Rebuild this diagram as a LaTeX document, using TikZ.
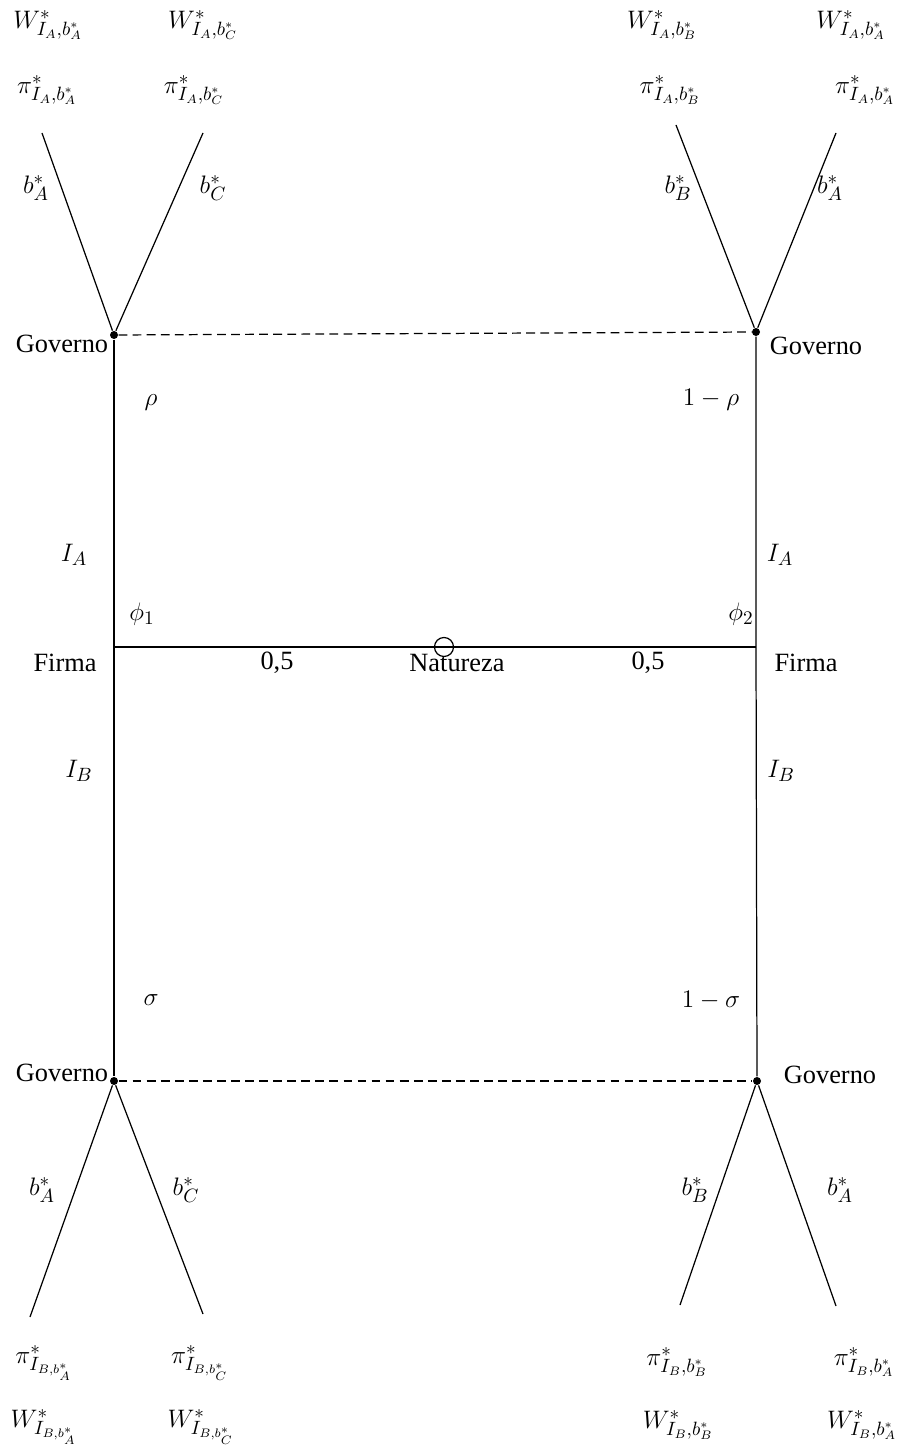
\documentclass[tikz,border=0pt]{standalone}
\usepackage{fontspec}
\setmainfont{Liberation Serif}
\usetikzlibrary{positioning}

\begin{document}
\begin{tikzpicture}[x=0.02cm,y=-0.02cm,line width=0.7pt,
  every node/.style={font=\fontsize{15}{18}\selectfont,inner sep=1pt},
  dot/.style={circle,fill,inner sep=0pt,minimum size=0.16cm},
  chance/.style={circle,draw,inner sep=0pt,minimum size=0.38cm},
  govline/.style={dash pattern=on 5pt off 3pt}]
\useasboundingbox (0,0) rectangle (898,1452);
% decision points
\node[dot] (gTL) at (114,335) {};
\node[dot] (gTR) at (756,332) {};
\node[dot] (gBL) at (114,1081) {};
\node[dot] (gBR) at (757,1081) {};
\coordinate (fL) at (114,647);
\coordinate (fR) at (756,647);
% branch ends
\coordinate (tTLa) at (42,133);  \coordinate (tTLc) at (203,133);
\coordinate (tTRb) at (676,125); \coordinate (tTRa) at (836,133);
\coordinate (tBLa) at (30,1317); \coordinate (tBLc) at (203,1314);
\coordinate (tBRb) at (680,1305); \coordinate (tBRa) at (836,1306);
% tree
\draw (gTL) -- (fL) -- (gBL);
\draw (gTR) -- (fR) -- (gBR);
\draw (fL) -- (fR);
\node[chance] (nat) at (444,647) {};
\draw[govline] (gTL) -- (gTR);
\draw[govline] (gBL) -- (gBR);
\draw (gTL) -- (tTLa); \draw (gTL) -- (tTLc);
\draw (gTR) -- (tTRb); \draw (gTR) -- (tTRa);
\draw (gBL) -- (tBLa); \draw (gBL) -- (tBLc);
\draw (gBR) -- (tBRb); \draw (gBR) -- (tBRa);
% players
\node (lgTL) at (62,344) {Governo};
\node (lgTR) at (816,346) {Governo};
\node (lgBL) at (62,1073) {Governo};
\node (lgBR) at (830,1075) {Governo};
\node (lfL) at (65,663) {Firma};
\node (lfR) at (806,663) {Firma};
\node (lnat) at (457,663) {Natureza};
% probabilities and actions
\node (pL) at (277,663) {0,5};
\node (pR) at (648,663) {0,5};
\node (phi1) at (142,614) {$\phi_1$};
\node (phi2) at (741,614) {$\phi_2$};
\node (iAL) at (74,555) {$I_A$};
\node (iAR) at (780,555) {$I_A$};
\node (iBL) at (79,771) {$I_B$};
\node (iBR) at (781,771) {$I_B$};
\node (rho) at (151,403) {$\rho$};
\node (rhoR) at (711,400) {$1-\rho$};
\node (sig) at (151,1000) {$\sigma$};
\node (sigR) at (711,1000) {$1-\sigma$};
\node (bTLa) at (36,188) {$b^*_A$};
\node (bTLc) at (213,188) {$b^*_C$};
\node (bTRb) at (678,188) {$b^*_B$};
\node (bTRa) at (830,188) {$b^*_A$};
\node (bBLa) at (42,1190) {$b^*_A$};
\node (bBLc) at (186,1190) {$b^*_C$};
\node (bBRb) at (695,1190) {$b^*_B$};
\node (bBRa) at (840,1190) {$b^*_A$};
% payoffs
\node (wTLa) at (48,25) {$W^*_{I_A,b^*_A}$};
\node (pTLa) at (47,90) {$\pi^*_{I_A,b^*_A}$};
\node (wTLc) at (203,25) {$W^*_{I_A,b^*_C}$};
\node (pTLc) at (194,90) {$\pi^*_{I_A,b^*_C}$};
\node (wTRb) at (662,25) {$W^*_{I_A,b^*_B}$};
\node (pTRb) at (670,90) {$\pi^*_{I_A,b^*_B}$};
\node (wTRa) at (851,25) {$W^*_{I_A,b^*_A}$};
\node (pTRa) at (865,90) {$\pi^*_{I_A,b^*_A}$};
\node (pBLa) at (44,1363) {$\pi^*_{I_{B,b^*_A}}$};
\node (wBLa) at (44,1427) {$W^*_{I_{B,b^*_A}}$};
\node (pBLc) at (200,1363) {$\pi^*_{I_{B,b^*_C}}$};
\node (wBLc) at (201,1427) {$W^*_{I_{B,b^*_C}}$};
\node (pBRb) at (677,1362) {$\pi^*_{I_B,b^*_B}$};
\node (wBRb) at (678,1425) {$W^*_{I_B,b^*_B}$};
\node (pBRa) at (864,1362) {$\pi^*_{I_B,b^*_A}$};
\node (wBRa) at (862,1425) {$W^*_{I_B,b^*_A}$};
\end{tikzpicture}
\end{document}
